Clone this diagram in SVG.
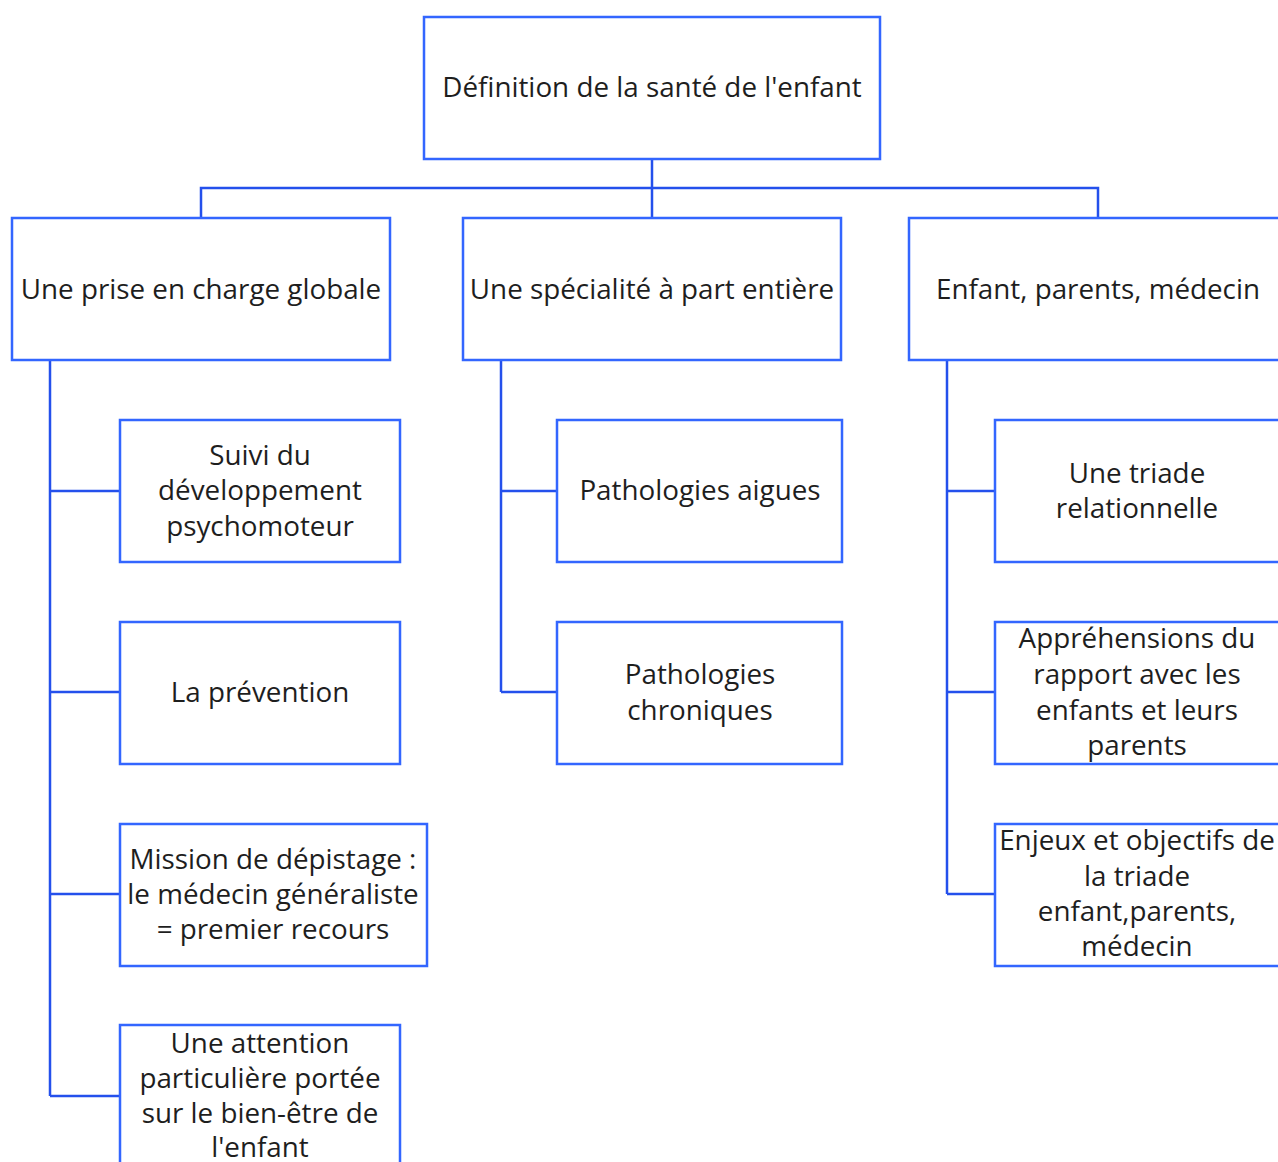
<svg xmlns="http://www.w3.org/2000/svg" width="1278" height="1162" viewBox="0 0 1278 1162">
  <style>
    .box { fill: #ffffff; stroke: #3366ff; stroke-width: 2.5; }
    .wire { fill: none; stroke: #2450ec; stroke-width: 2.5; }
    text { font-family: "Open Sans", "Noto Sans", "Liberation Sans", sans-serif; font-size: 27.8px; fill: #1e1e1e; text-anchor: middle; }
  </style>
  <rect width="1278" height="1162" fill="#ffffff"/>

  <!-- connectors -->
  <g id="connectors">
    <path class="wire" d="M652 159 V218 M201 218 V188 H1098 V218"/>
    <path class="wire" d="M50 360 V1096 M50 491 H120 M50 692 H120 M50 894 H120 M50 1096 H120"/>
    <path class="wire" d="M501 360 V692 M501 491 H557 M501 692 H557"/>
    <path class="wire" d="M947 360 V894 M947 491 H995 M947 692 H995 M947 894 H995"/>
  </g>

  <g id="root">
    <rect class="box" x="424" y="17" width="456" height="142"/>
    <text x="652" y="87" dy="0.35em">Définition de la santé de l'enfant</text>
  </g>

  <g id="globale">
    <rect class="box" x="12" y="218" width="378" height="142"/>
    <text x="201" y="289" dy="0.35em">Une prise en charge globale</text>
  </g>
  <g id="specialite">
    <rect class="box" x="463" y="218" width="378" height="142"/>
    <text x="652" y="289" dy="0.35em">Une spécialité à part entière</text>
  </g>
  <g id="triade">
    <rect class="box" x="909" y="218" width="378" height="142"/>
    <text x="1098" y="289" dy="0.35em">Enfant, parents, médecin</text>
  </g>

  <g id="suivi">
    <rect class="box" x="120" y="420" width="280" height="142"/>
    <text x="260" y="455" dy="0.35em">Suivi du</text>
    <text x="260" y="490" dy="0.35em">développement</text>
    <text x="260" y="526" dy="0.35em">psychomoteur</text>
  </g>
  <g id="prevention">
    <rect class="box" x="120" y="622" width="280" height="142"/>
    <text x="260" y="692" dy="0.35em">La prévention</text>
  </g>
  <g id="depistage">
    <rect class="box" x="120" y="824" width="307" height="142"/>
    <text x="273" y="859" dy="0.35em">Mission de dépistage :</text>
    <text x="273" y="894" dy="0.35em">le médecin généraliste</text>
    <text x="273" y="929" dy="0.35em">= premier recours</text>
  </g>
  <g id="bien-etre">
    <rect class="box" x="120" y="1025" width="280" height="142"/>
    <text x="260" y="1043" dy="0.35em">Une attention</text>
    <text x="260" y="1078" dy="0.35em">particulière portée</text>
    <text x="260" y="1113" dy="0.35em">sur le bien-être de</text>
    <text x="260" y="1147" dy="0.35em">l'enfant</text>
  </g>

  <g id="aigues">
    <rect class="box" x="557" y="420" width="285" height="142"/>
    <text x="700" y="490" dy="0.35em">Pathologies aigues</text>
  </g>
  <g id="chroniques">
    <rect class="box" x="557" y="622" width="285" height="142"/>
    <text x="700" y="674" dy="0.35em">Pathologies</text>
    <text x="700" y="710" dy="0.35em">chroniques</text>
  </g>

  <g id="relationnelle">
    <rect class="box" x="995" y="420" width="285" height="142"/>
    <text x="1137" y="473" dy="0.35em">Une triade</text>
    <text x="1137" y="508" dy="0.35em">relationnelle</text>
  </g>
  <g id="apprehensions">
    <rect class="box" x="995" y="622" width="285" height="142"/>
    <text x="1137" y="638" dy="0.35em">Appréhensions du</text>
    <text x="1137" y="674" dy="0.35em">rapport avec les</text>
    <text x="1137" y="710" dy="0.35em">enfants et leurs</text>
    <text x="1137" y="745" dy="0.35em">parents</text>
  </g>
  <g id="enjeux">
    <rect class="box" x="995" y="824" width="285" height="142"/>
    <text x="1137" y="840" dy="0.35em">Enjeux et objectifs de</text>
    <text x="1137" y="876" dy="0.35em">la triade</text>
    <text x="1137" y="911" dy="0.35em">enfant,parents,</text>
    <text x="1137" y="946" dy="0.35em">médecin</text>
  </g>
</svg>
